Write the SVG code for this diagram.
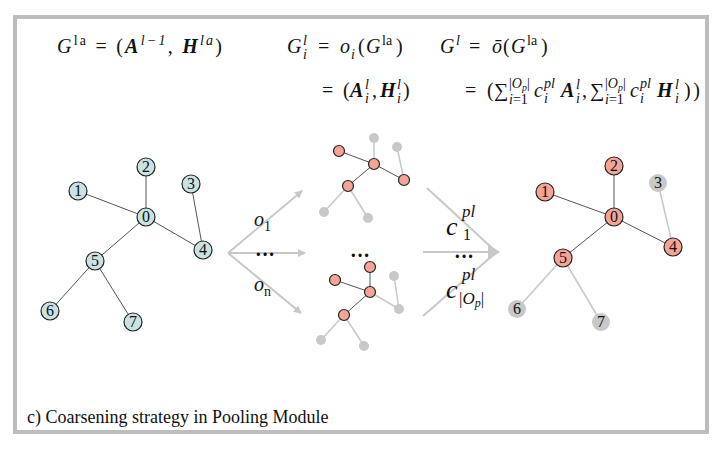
<svg xmlns="http://www.w3.org/2000/svg" width="720" height="450" viewBox="0 0 720 450">
<defs>
<style>
.m{font-family:"Liberation Serif","DejaVu Serif",serif;font-size:20px;fill:#111}
.i{font-style:italic}
.b{font-style:italic;font-weight:bold}
.s{font-size:14px}
.e{stroke:#555;stroke-width:1;fill:none}
.le{stroke:#c8c8c8;stroke-width:1.5;fill:none}
.nb{fill:#cbe2e2;stroke:#222;stroke-width:1.2}
.nr{fill:#f4a496;stroke:#222;stroke-width:1.2}
.ng{fill:#c8c8c8;stroke:none}
.nl{font-family:"Liberation Serif","DejaVu Serif",serif;font-size:16px;fill:#111;text-anchor:middle}
.ar{stroke:#c8c8c8;stroke-width:2;fill:none}
.cap{font-family:"Liberation Serif","DejaVu Serif",serif;font-size:18px;fill:#111}
</style>
<marker id="ah" markerWidth="8" markerHeight="8" refX="7" refY="4" orient="auto" markerUnits="userSpaceOnUse">
<path d="M0,0 L8,4 L0,8 Z" fill="#c8c8c8"/>
</marker>
</defs>
<rect x="0" y="0" width="720" height="450" fill="#fff"/>
<rect x="15" y="17" width="692" height="415" fill="#fff" stroke="#bdbdbd" stroke-width="4"/>

<g id="formulas" class="m">
<text x="57" y="53" textLength="165" lengthAdjust="spacing"><tspan class="i">G</tspan><tspan class="s" dy="-8">la</tspan><tspan dy="8"> = (</tspan><tspan class="b">A</tspan><tspan class="s i" dy="-8">l−1</tspan><tspan dy="8">, </tspan><tspan class="b">H</tspan><tspan class="s i" dy="-8">la</tspan><tspan dy="8">)</tspan></text>

<text x="287" y="53" class="i">G</text>
<text x="303" y="45" class="s i">l</text>
<text x="303" y="59" class="s i">i</text>
<text x="318" y="53">=</text>
<text x="340" y="53" class="i">o</text>
<text x="351" y="59" class="s i">i</text>
<text x="358" y="53">(</text>
<text x="366" y="53" class="i">G</text>
<text x="382" y="45" class="s">la</text>
<text x="396" y="53">)</text>

<text x="440" y="53" class="i">G</text>
<text x="456" y="45" class="s i">l</text>
<text x="469" y="53">=</text>
<text x="492" y="53" class="i">ō</text>
<text x="503" y="53">(</text>
<text x="511" y="53" class="i">G</text>
<text x="527" y="45" class="s">la</text>
<text x="541" y="53">)</text>

<text x="322" y="97">=</text>
<text x="343" y="97">(</text>
<text x="350" y="97" class="b">A</text>
<text x="365" y="89" class="s i">l</text>
<text x="365" y="103" class="s i">i</text>
<text x="372" y="97">,</text>
<text x="380" y="97" class="b">H</text>
<text x="397" y="89" class="s i">l</text>
<text x="397" y="103" class="s i">i</text>
<text x="403" y="97">)</text>

<text x="465" y="97">=</text>
<text x="487" y="97">(</text>
<text x="494" y="97">∑</text>
<text x="509" y="88" class="s">|<tspan class="i">O</tspan><tspan font-size="10" class="i" dy="3">p</tspan><tspan dy="-3">|</tspan></text>
<text x="509" y="104" class="s"><tspan class="i">i</tspan>=1</text>
<text x="534" y="97" class="i">c</text>
<text x="544" y="88" class="s i">pl</text>
<text x="544" y="103" class="s i">i</text>
<text x="561" y="97" class="b">A</text>
<text x="576" y="89" class="s i">l</text>
<text x="576" y="103" class="s i">i</text>
<text x="582" y="97">,</text>
<text x="590" y="97">∑</text>
<text x="605" y="88" class="s">|<tspan class="i">O</tspan><tspan font-size="10" class="i" dy="3">p</tspan><tspan dy="-3">|</tspan></text>
<text x="605" y="104" class="s"><tspan class="i">i</tspan>=1</text>
<text x="630" y="97" class="i">c</text>
<text x="640" y="88" class="s i">pl</text>
<text x="640" y="103" class="s i">i</text>
<text x="657" y="97" class="b">H</text>
<text x="675" y="89" class="s i">l</text>
<text x="675" y="103" class="s i">i</text>
<text x="684" y="97" textLength="16" lengthAdjust="spacing">))</text>
</g>

<g id="connectors">
<line class="e" x1="146" y1="217" x2="78" y2="191"/>
<line class="e" x1="146" y1="217" x2="146" y2="167"/>
<line class="e" x1="146" y1="217" x2="203" y2="250"/>
<line class="e" x1="191" y1="184" x2="203" y2="250"/>
<line class="e" x1="146" y1="217" x2="95" y2="261"/>
<line class="e" x1="95" y1="261" x2="50" y2="311"/>
<line class="e" x1="95" y1="261" x2="133" y2="322"/>

<line class="ar" x1="228" y1="253" x2="302" y2="191" marker-end="url(#ah)"/>
<line class="ar" x1="228" y1="253" x2="305" y2="253" marker-end="url(#ah)"/>
<line class="ar" x1="228" y1="253" x2="301" y2="313" marker-end="url(#ah)"/>

<line class="le" x1="374" y1="164" x2="374" y2="138"/>
<line class="le" x1="404" y1="180" x2="397" y2="147"/>
<line class="le" x1="348" y1="186" x2="324" y2="212"/>
<line class="le" x1="348" y1="186" x2="368" y2="218"/>
<line class="e" x1="374" y1="164" x2="339" y2="151"/>
<line class="e" x1="374" y1="164" x2="404" y2="180"/>
<line class="e" x1="374" y1="164" x2="348" y2="186"/>

<line class="le" x1="370" y1="292" x2="399" y2="309"/>
<line class="le" x1="394" y1="276" x2="399" y2="309"/>
<line class="le" x1="344" y1="315" x2="321" y2="340"/>
<line class="le" x1="344" y1="315" x2="364" y2="346"/>
<line class="e" x1="370" y1="292" x2="370" y2="267"/>
<line class="e" x1="370" y1="292" x2="335" y2="280"/>
<line class="e" x1="370" y1="292" x2="344" y2="315"/>

<line class="ar" x1="427" y1="188" x2="492" y2="248"/>
<line class="ar" x1="423" y1="252" x2="492" y2="252"/>
<line class="ar" x1="423" y1="316" x2="492" y2="256"/>
<path d="M488,244 L500,252 L488,260 Z" fill="#c8c8c8"/>

<line class="e" x1="614" y1="217" x2="545" y2="192"/>
<line class="e" x1="614" y1="217" x2="614" y2="166"/>
<line class="e" x1="614" y1="217" x2="673" y2="247"/>
<line class="e" x1="614" y1="217" x2="563" y2="258"/>
<line class="le" x1="658" y1="183" x2="673" y2="247"/>
<line class="le" x1="563" y1="258" x2="517" y2="309"/>
<line class="le" x1="563" y1="258" x2="601" y2="322"/>
</g>

<g id="arrow-labels" class="m">
<text x="254" y="226" class="i">o</text><text x="264" y="231" class="s">1</text>
<text x="265" y="261" text-anchor="middle" font-weight="bold">···</text>
<text x="254" y="291" class="i">o</text><text x="264" y="296" class="s">n</text>
<text x="360" y="262" text-anchor="middle" font-weight="bold">···</text>
<text x="446" y="235" class="i" font-size="26">c</text>
<text x="462" y="217" class="i" font-size="17">pl</text>
<text x="463" y="240" font-size="16">1</text>
<text x="464" y="263" text-anchor="middle" font-weight="bold">···</text>
<text x="446" y="298" class="i" font-size="26">c</text>
<text x="462" y="280" class="i" font-size="17">pl</text>
<text x="459" y="304" font-size="17">|<tspan class="i">O</tspan><tspan class="i" font-size="12" dy="3">p</tspan><tspan dy="-3">|</tspan></text>
</g>

<g id="left-graph">
<g id="l0"><circle class="nb" cx="146" cy="217" r="9"/><text class="nl" x="146" y="222">0</text></g>
<g id="l1"><circle class="nb" cx="78" cy="191" r="9"/><text class="nl" x="78" y="196">1</text></g>
<g id="l2"><circle class="nb" cx="146" cy="167" r="9"/><text class="nl" x="146" y="172">2</text></g>
<g id="l3"><circle class="nb" cx="191" cy="184" r="9"/><text class="nl" x="191" y="189">3</text></g>
<g id="l4"><circle class="nb" cx="203" cy="250" r="9"/><text class="nl" x="203" y="255">4</text></g>
<g id="l5"><circle class="nb" cx="95" cy="261" r="9"/><text class="nl" x="95" y="266">5</text></g>
<g id="l6"><circle class="nb" cx="50" cy="311" r="9"/><text class="nl" x="50" y="316">6</text></g>
<g id="l7"><circle class="nb" cx="133" cy="322" r="9"/><text class="nl" x="133" y="327">7</text></g>
</g>

<g id="mid-top-graph">
<g id="t0"><circle class="nr" cx="374" cy="164" r="5.5"/></g>
<g id="t1"><circle class="nr" cx="339" cy="151" r="5.5"/></g>
<g id="t2"><circle class="ng" cx="374" cy="138" r="5"/></g>
<g id="t3"><circle class="ng" cx="397" cy="147" r="5"/></g>
<g id="t4"><circle class="nr" cx="404" cy="180" r="5.5"/></g>
<g id="t5"><circle class="nr" cx="348" cy="186" r="5.5"/></g>
<g id="t6"><circle class="ng" cx="324" cy="212" r="5"/></g>
<g id="t7"><circle class="ng" cx="368" cy="218" r="5"/></g>
</g>

<g id="mid-bottom-graph">
<g id="b0"><circle class="nr" cx="370" cy="292" r="5.5"/></g>
<g id="b1"><circle class="nr" cx="335" cy="280" r="5.5"/></g>
<g id="b2"><circle class="nr" cx="370" cy="267" r="5.5"/></g>
<g id="b3"><circle class="ng" cx="394" cy="276" r="5"/></g>
<g id="b4"><circle class="ng" cx="399" cy="309" r="5"/></g>
<g id="b5"><circle class="nr" cx="344" cy="315" r="5.5"/></g>
<g id="b6"><circle class="ng" cx="321" cy="340" r="5"/></g>
<g id="b7"><circle class="ng" cx="364" cy="346" r="5"/></g>
</g>

<g id="right-graph">
<g id="r0"><circle class="nr" cx="614" cy="217" r="9"/><text class="nl" x="614" y="222">0</text></g>
<g id="r1"><circle class="nr" cx="545" cy="192" r="9"/><text class="nl" x="545" y="197">1</text></g>
<g id="r2"><circle class="nr" cx="614" cy="166" r="9"/><text class="nl" x="614" y="171">2</text></g>
<g id="r3"><circle class="ng" cx="658" cy="183" r="9"/><text class="nl" x="658" y="188">3</text></g>
<g id="r4"><circle class="nr" cx="673" cy="247" r="9"/><text class="nl" x="673" y="252">4</text></g>
<g id="r5"><circle class="nr" cx="563" cy="258" r="9"/><text class="nl" x="563" y="263">5</text></g>
<g id="r6"><circle class="ng" cx="517" cy="309" r="9"/><text class="nl" x="517" y="314">6</text></g>
<g id="r7"><circle class="ng" cx="601" cy="322" r="9"/><text class="nl" x="601" y="327">7</text></g>
</g>

<text id="caption" class="cap" x="27" y="423">c) Coarsening strategy in Pooling Module</text>
</svg>
